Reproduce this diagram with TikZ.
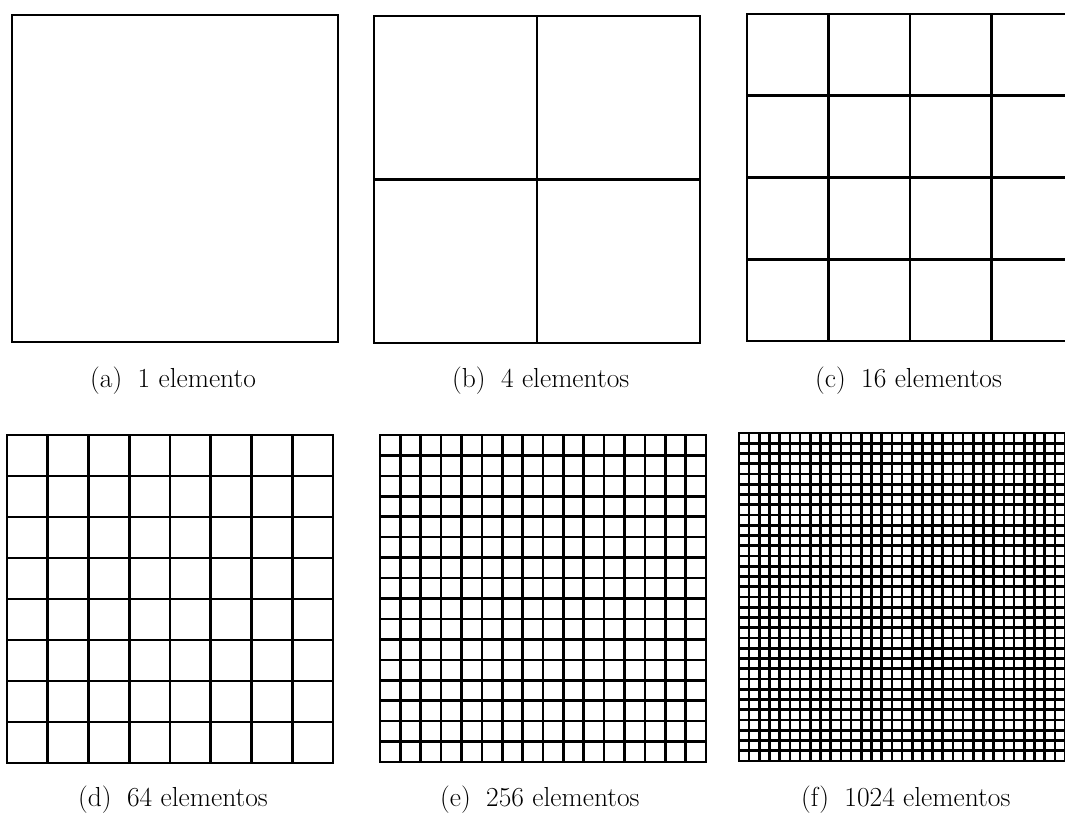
\documentclass[tikz,border=0pt]{standalone}
\begin{document}
\begin{tikzpicture}[x=1pt,y=-1pt,
  gridline/.style={line width=2.6pt,line cap=rect},
  caption/.style={font=\fontsize{27.5}{32}\selectfont,inner sep=0pt,anchor=base west}]
\useasboundingbox (0,0) rectangle (1065,812);
\clip (0,0) rectangle (1065,812);
\newcommand{\meshbox}[4]{%
  \foreach \i in {0,...,#4} {
    \draw[gridline] ({#1+\i*326/#4},#2) -- ++(0,#3);
    \draw[gridline] (#1,{#2+\i*#3/#4}) -- ++(326,0);
  }}
\meshbox{12}{15}{327}{1}
\meshbox{374}{16}{327}{2}
\meshbox{747}{14}{327}{4}
\meshbox{7}{435}{328}{8}
\meshbox{380}{435}{327}{16}
\meshbox{739}{433}{328}{32}
\node[caption] (la) at (90,387) {(a)};
\node[caption] (ta) at ([xshift=15pt]la.base east) {1 elemento};
\node[caption] (lb) at (452,387) {(b)};
\node[caption] (tb) at ([xshift=15pt]lb.base east) {4 elementos};
\node[caption] (lc) at (815,387) {(c)};
\node[caption] (tc) at ([xshift=15pt]lc.base east) {16 elementos};
\node[caption] (ld) at (78,806) {(d)};
\node[caption] (td) at ([xshift=15pt]ld.base east) {64 elementos};
\node[caption] (le) at (440,806) {(e)};
\node[caption] (te) at ([xshift=15pt]le.base east) {256 elementos};
\node[caption] (lf) at (801,806) {(f)};
\node[caption] (tf) at ([xshift=15pt]lf.base east) {1024 elementos};
\end{tikzpicture}
\end{document}
